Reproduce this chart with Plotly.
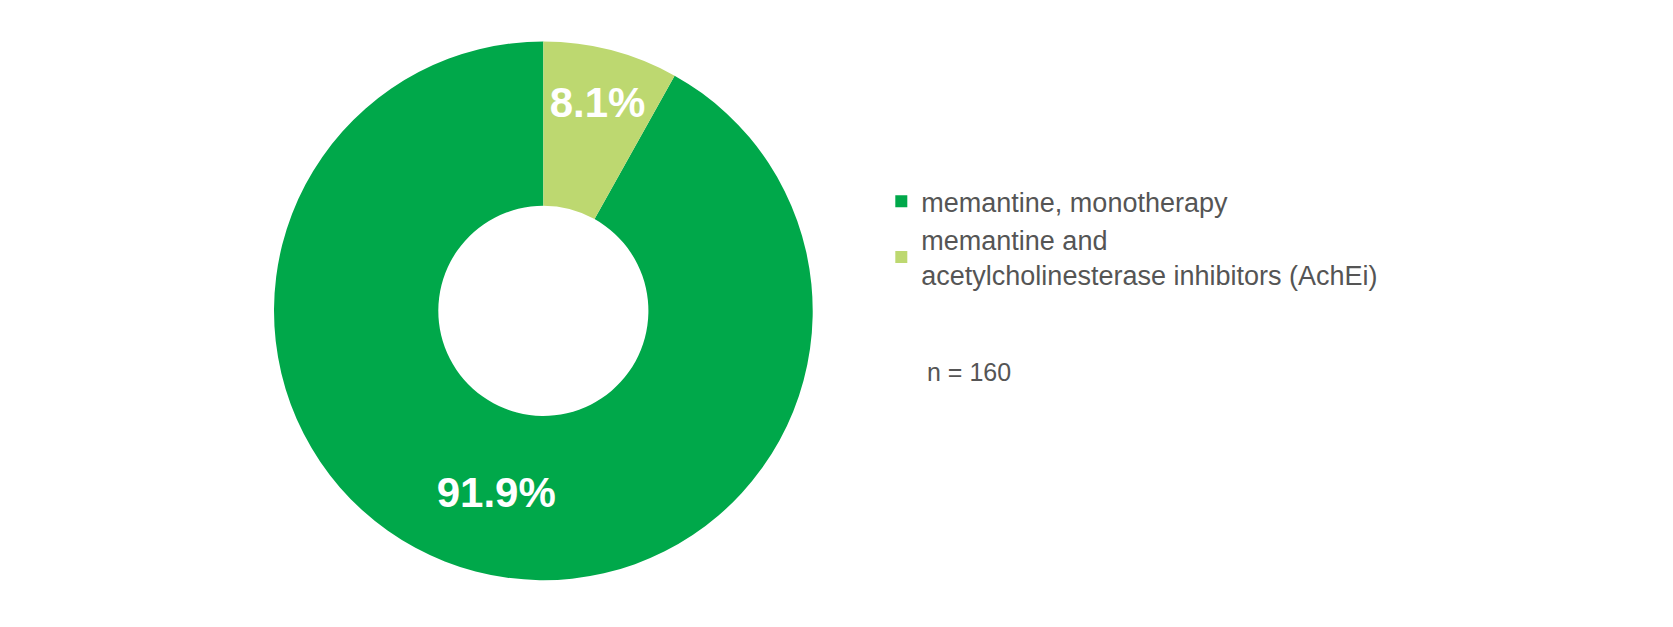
import plotly.graph_objects as go

labels = ["memantine, monotherapy", "memantine and<br>acetylcholinesterase inhibitors (AchEi)"]
values = [91.9, 8.1]
text_labels = ["91.9%", "8.1%"]
colors = ["#00A84A", "#BDD870"]

fig = go.Figure(go.Pie(
    labels=labels,
    values=values,
    text=text_labels,
    textinfo="text",
    textposition="inside",
    insidetextorientation="horizontal",
    textfont=dict(family="Liberation Sans, Arial", size=42, color="white", weight="bold"),
    hole=0.39,
    sort=False,
    direction="clockwise",
    rotation=values[1] / sum(values) * 360,  # light slice sits just right of 12 o'clock
    marker=dict(colors=colors, line=dict(width=0)),
    domain=dict(x=[0.159, 0.481], y=[0.087, 0.947]),
    hoverinfo="label+percent",
))

fig.update_layout(
    width=1673, height=627,
    margin=dict(l=0, r=0, t=0, b=0),
    paper_bgcolor="white",
    plot_bgcolor="white",
    font=dict(family="Liberation Sans, Arial", color="#555555", size=28),
    legend=dict(x=0.522, y=0.73, xanchor="left", yanchor="top",
                font=dict(size=27, color="#555555"),
                itemsizing="constant", tracegroupgap=20),
    showlegend=True,
)

# sample size note
fig.add_annotation(x=0.548, y=0.42, xref="paper", yref="paper",
                   text="n = 160", showarrow=False, xanchor="left",
                   font=dict(size=25, color="#555555"))

fig.write_html("out.html")
